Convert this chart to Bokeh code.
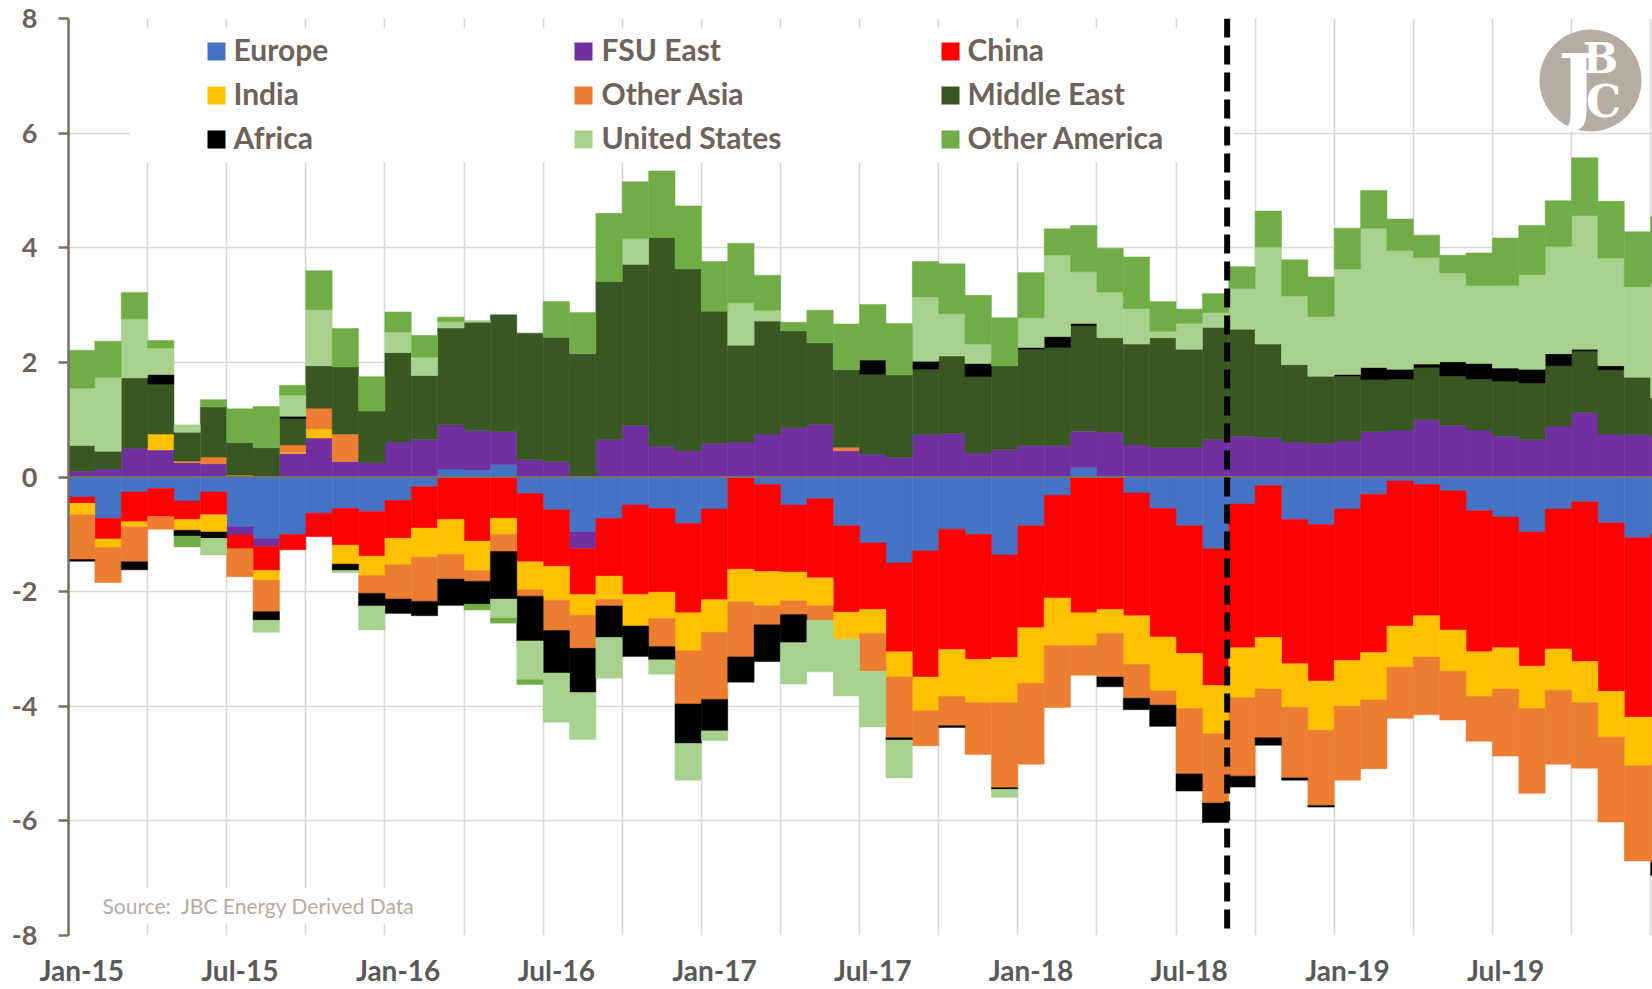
import numpy as np
from bokeh.plotting import figure
from bokeh.models import Range1d, FixedTicker, Span
from bokeh.embed import file_html
from bokeh.resources import INLINE
from bokeh.core.properties import value

# ---------------- data (million b/d, Jan-15 ... Jan-20) ----------------
tick_months = [0, 6, 12, 18, 24, 30, 36, 42, 48, 54]
tick_labels = ["Jan-15", "Jul-15", "Jan-16", "Jul-16", "Jan-17",
               "Jul-17", "Jan-18", "Jul-18", "Jan-19", "Jul-19"]

europe = [-0.35, -0.72, -0.26, -0.20, -0.42, -0.26, -0.87, -1.08, -1.00, -0.63,
          -0.55, -0.60, -0.41, -0.17, 0.14, 0.12, 0.22, -0.29, -0.57, -0.96,
          -0.72, -0.49, -0.55, -0.81, -0.56, 0.00, -0.13, -0.49, -0.38, -0.85,
          -1.15, -1.50, -1.29, -0.91, -1.00, -1.36, -0.85, -0.32, 0.17, 0.00,
          -0.28, -0.55, -0.85, -1.25, -0.47, -0.15, -0.74, -0.83, -0.56, -0.30,
          -0.07, -0.13, -0.24, -0.59, -0.70, -0.96, -0.56, -0.43, -0.80, -1.06,
          -1.00]
fsu_east = [0.10, 0.14, 0.50, 0.47, 0.25, 0.23, -0.14, -0.13, 0.41, 0.68,
            0.27, 0.25, 0.61, 0.66, 0.77, 0.69, 0.57, 0.30, 0.27, -0.29,
            0.65, 0.90, 0.54, 0.46, 0.59, 0.61, 0.75, 0.86, 0.92, 0.46,
            0.40, 0.34, 0.74, 0.76, 0.42, 0.48, 0.55, 0.55, 0.63, 0.78,
            0.56, 0.51, 0.51, 0.65, 0.71, 0.69, 0.61, 0.59, 0.63, 0.79,
            0.82, 1.00, 0.90, 0.82, 0.71, 0.65, 0.89, 1.12, 0.75, 0.74,
            0.70]
china = [-0.11, -0.36, -0.52, -0.49, -0.32, -0.40, -0.24, -0.42, -0.27, -0.41,
         -0.64, -0.78, -0.66, -0.72, -0.74, -1.12, -0.72, -1.19, -0.99, -0.80,
         -1.01, -1.56, -1.46, -1.56, -1.58, -1.61, -1.52, -1.17, -1.38, -1.51,
         -1.16, -1.55, -2.20, -2.10, -2.18, -1.79, -1.78, -1.79, -2.37, -2.31,
         -2.14, -2.24, -2.23, -2.39, -2.51, -2.65, -2.52, -2.73, -2.64, -2.76,
         -2.53, -2.29, -2.43, -2.46, -2.28, -2.34, -2.44, -2.79, -2.94, -3.13,
         -3.19]
india = [-0.20, -0.15, -0.09, 0.28, -0.19, -0.30, 0.03, -0.17, 0.02, 0.16,
         -0.33, -0.34, -0.46, -0.51, -0.61, -0.51, -0.28, -0.49, -0.59, -0.36,
         -0.41, -0.55, -0.46, -0.66, -0.57, -0.57, -0.60, -0.50, -0.49, -0.47,
         -0.42, -0.44, -0.59, -0.82, -0.76, -0.79, -0.97, -0.83, -0.57, -0.42,
         -0.85, -0.94, -0.96, -0.84, -0.87, -0.90, -0.76, -0.86, -0.80, -0.83,
         -0.72, -0.72, -0.72, -0.78, -0.72, -0.74, -0.72, -0.72, -0.80, -0.85,
         -0.83]
other_asia = [-0.78, -0.61, -0.61, -0.22, 0.03, 0.12, -0.49, -0.55, 0.13, 0.36,
              0.48, -0.31, -0.60, -0.77, -0.43, -0.19, -0.30, -0.11, -0.53, -0.58,
              -0.11, 0.00, -0.49, -0.93, -1.17, -0.96, -0.33, -0.24, -0.25, 0.06,
              -0.66, -1.06, -0.61, -0.51, -0.90, -1.48, -1.41, -1.08, -0.52, -0.76,
              -0.59, -0.25, -1.14, -1.21, -1.37, -0.85, -1.23, -1.31, -1.29, -1.20,
              -0.89, -1.01, -0.85, -0.78, -1.17, -1.48, -1.29, -1.14, -1.48, -1.66,
              -1.70]
middle_east = [0.45, 0.31, 1.23, 0.87, 0.50, 0.87, 0.57, 0.51, 0.46, 0.74,
               1.17, 0.90, 1.56, 1.11, 1.69, 1.89, 2.04, 2.21, 2.17, 2.15,
               2.76, 2.81, 3.64, 3.17, 2.30, 1.69, 1.97, 1.69, 1.42, 1.35,
               1.39, 1.44, 1.14, 1.35, 1.33, 1.46, 1.68, 1.71, 1.84, 1.65,
               1.76, 1.92, 1.72, 1.96, 1.87, 1.63, 1.35, 1.17, 1.13, 0.91,
               0.89, 0.91, 0.86, 0.89, 0.96, 0.99, 1.05, 1.08, 1.12, 1.00,
               0.68]
africa = [-0.03, 0.00, -0.14, 0.17, -0.10, -0.11, 0.00, -0.15, 0.04, 0.00,
          -0.11, -0.22, -0.25, -0.25, -0.46, -0.40, -0.83, -0.78, -0.74, -0.77,
          -0.55, -0.53, -0.23, -0.69, -0.55, -0.44, -0.64, -0.49, 0.00, 0.00,
          0.25, -0.04, 0.14, -0.03, 0.23, -0.03, 0.03, 0.19, 0.04, -0.17,
          -0.20, -0.37, -0.30, -0.34, -0.19, -0.13, -0.04, -0.03, 0.03, 0.21,
          0.17, 0.06, 0.25, 0.27, 0.23, 0.24, 0.21, 0.03, 0.07, 0.00,
          -0.23]
united_states = [1.00, 1.29, 1.03, 0.46, 0.13, -0.29, 0.00, -0.21, 0.37, 0.98,
                 -0.04, -0.42, 0.36, 0.32, 0.11, 0.03, -0.33, -0.68, -0.86, -0.82,
                 -0.71, 0.45, -0.25, -0.64, -0.17, 0.74, 0.19, -0.72, -0.90, -0.99,
                 -0.97, -0.66, 1.12, 0.74, 0.34, -0.14, 0.52, 1.42, 0.90, 0.80,
                 0.62, 0.11, 0.45, 0.26, 0.71, 1.69, 1.20, 1.04, 1.84, 2.43,
                 2.07, 1.86, 1.55, 1.36, 1.44, 1.65, 1.87, 2.33, 1.88, 1.58,
                 2.00]
other_america = [0.66, 0.63, 0.46, 0.13, -0.19, 0.13, 0.59, 0.72, 0.17, 0.68,
                 0.67, 0.60, 0.35, 0.38, 0.08, -0.10, -0.09, -0.08, 0.62, 0.72,
                 1.19, 0.99, 1.16, 1.10, 0.87, 1.04, 0.61, 0.15, 0.57, 0.80,
                 0.97, 0.90, 0.62, 0.87, 0.85, 0.84, 0.79, 0.46, 0.81, 0.76,
                 0.90, 0.52, 0.25, 0.33, 0.38, 0.63, 0.63, 0.69, 0.71, 0.66,
                 0.55, 0.39, 0.31, 0.57, 0.83, 0.86, 0.80, 1.01, 0.99, 0.96,
                 1.16]

series_names = ["Europe", "FSU East", "China", "India", "Other Asia",
                "Middle East", "Africa", "United States", "Other America"]
series_values = [europe, fsu_east, china, india, other_asia,
                 middle_east, africa, united_states, other_america]
series_colors = ["#4472C4", "#7030A0", "#FF0000", "#FFC000", "#ED7D31",
                 "#385723", "#000000", "#A9D18E", "#70AD47"]

forecast_start = 43.94  # position of the dashed forecast divider (months)
source_text = "Source:\u00a0\u00a0JBC Energy Derived Data"

# ---------------- layout helpers (page px -> data) ----------------
W, H = 1652, 989
FRAME_L, FRAME_T, FRAME_B = 68, 18, 935
PX_MONTH = (W - FRAME_L) / 60.07
PX_UNIT = (FRAME_B - FRAME_T) / 16.0


def xd(px):
    return (px - FRAME_L) / PX_MONTH


def yd(py):
    return 8 - (py - FRAME_T) / PX_UNIT


n = len(europe)
xs = np.arange(n) + 0.5

p = figure(width=W, height=H, x_range=Range1d(0, 60.07),
           y_range=Range1d(-8, 8), toolbar_location=None, output_backend="svg",
           min_border_left=FRAME_L, min_border_right=0, min_border_top=FRAME_T,
           min_border_bottom=H - FRAME_B)
p.outline_line_color = None
p.background_fill_color = "white"
p.border_fill_color = "white"

# grid
p.xgrid.ticker = FixedTicker(ticks=list(range(0, 61, 3)))
p.ygrid.ticker = FixedTicker(ticks=list(range(-8, 9, 2)))
for g in (p.xgrid, p.ygrid):
    g.grid_line_color = "#d9d9d9"
    g.grid_line_width = 1.6

# white boxes behind legend and source note (hide grid lines)
p.quad(left=[xd(129)], right=[xd(1233)], top=[yd(28)], bottom=[yd(162)],
       fill_color="white", line_color=None)
p.quad(left=[xd(92)], right=[xd(450)], top=[yd(888)], bottom=[yd(923)],
       fill_color="white", line_color=None)

# stacked bars: positives stack upward, negatives downward, in series order
pos = np.zeros(n)
neg = np.zeros(n)
for name, vals, col in zip(series_names, series_values, series_colors):
    v = np.array(vals, dtype=float)
    vp = np.where(v > 0, v, 0.0)
    vn = np.where(v < 0, v, 0.0)
    mp = vp > 0
    mn = vn < 0
    if mp.any():
        p.vbar(x=xs[mp], width=1.0, bottom=pos[mp], top=(pos + vp)[mp],
               fill_color=col, line_color=col, line_width=0.5)
    if mn.any():
        p.vbar(x=xs[mn], width=1.0, top=neg[mn], bottom=(neg + vn)[mn],
               fill_color=col, line_color=col, line_width=0.5)
    pos = pos + vp
    neg = neg + vn

# zero line and forecast divider
p.add_layout(Span(location=0, dimension="width", line_color="#7b7069",
                  line_width=2))
p.add_layout(Span(location=forecast_start, dimension="height",
                  line_color="black", line_width=6, line_dash="19 8"))

# axes
p.yaxis.ticker = FixedTicker(ticks=list(range(-8, 9, 2)))
p.yaxis.major_label_overrides = {t: str(t) for t in range(-8, 9, 2)}
p.yaxis.axis_line_color = "#7a6e65"
p.yaxis.axis_line_width = 2.5
p.yaxis.major_tick_line_color = "#7a6e65"
p.yaxis.major_tick_line_width = 2.5
p.yaxis.major_tick_out = 10
p.yaxis.major_tick_in = 0
p.yaxis.minor_tick_line_color = None
p.yaxis.major_label_standoff = 21
p.yaxis.major_label_text_font = "Lato"
p.yaxis.major_label_text_font_style = "bold"
p.yaxis.major_label_text_font_size = "27px"
p.yaxis.major_label_text_color = "#6e625a"

p.xaxis.ticker = FixedTicker(ticks=[m + 0.5 for m in tick_months])
p.xaxis.major_label_overrides = {m + 0.5: lab for m, lab in zip(tick_months, tick_labels)}
p.xaxis.axis_line_color = None
p.xaxis.major_tick_line_color = None
p.xaxis.minor_tick_line_color = None
p.xaxis.major_label_standoff = 11
p.xaxis.major_label_text_font = "Lato"
p.xaxis.major_label_text_font_style = "bold"
p.xaxis.major_label_text_font_size = "28px"
p.xaxis.major_label_text_color = "#595959"

# legend (3 x 3 grid, row-major)
col_sq = [216, 583, 950]
col_tx = [233, 601, 967]
row_y = [51, 95, 139]
lx, ly, tx, ty = [], [], [], []
for i in range(len(series_names)):
    r, c = divmod(i, 3)
    lx.append(xd(col_sq[c]))
    ly.append(yd(row_y[r]))
    tx.append(xd(col_tx[c]))
    ty.append(yd(row_y[r] - 3))
p.scatter(x=lx, y=ly, marker="square", size=18, fill_color=series_colors,
          line_color=None)
p.text(x=tx, y=ty, text=series_names, text_font=value("Lato"),
       text_font_style="bold", text_font_size="30px", text_color="#6e625a",
       text_baseline="middle", text_align="left")

# source note
p.text(x=[xd(102)], y=[yd(905)], text=[source_text], text_font=value("Lato"),
       text_font_size="21px", text_color="#b5aca4", text_baseline="middle",
       text_align="left")

# logo
p.scatter(x=[xd(1590)], y=[yd(80)], marker="circle", size=102,
          fill_color="#b5aca3", line_color=None)
p.text(x=[xd(1577)], y=[yd(84)], text=["J"], text_font=value("DejaVu Serif"),
       text_font_style="bold", text_font_size="84px", text_color="white",
       text_baseline="middle", text_align="center")
p.text(x=[xd(1600)], y=[yd(58)], text=["B"], text_font=value("DejaVu Serif"),
       text_font_style="bold", text_font_size="42px", text_color="white",
       text_baseline="middle", text_align="center")
p.text(x=[xd(1603)], y=[yd(101)], text=["C"], text_font=value("DejaVu Serif"),
       text_font_style="bold", text_font_size="44px", text_color="white",
       text_baseline="middle", text_align="center")

open("out.html", "w").write(file_html(p, INLINE))
